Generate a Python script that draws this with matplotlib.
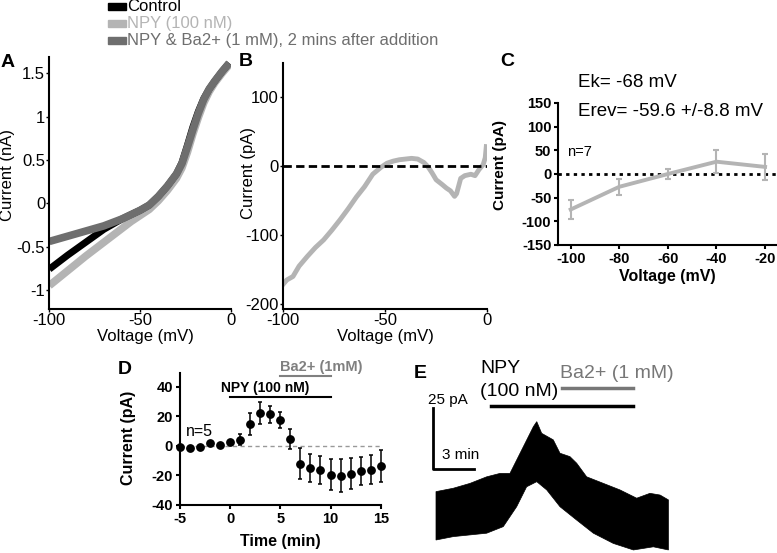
import numpy as np
import matplotlib.pyplot as plt
from matplotlib.patches import Rectangle

plt.rcParams['font.family'] = ['Liberation Sans', 'DejaVu Sans']
plt.rcParams['axes.unicode_minus'] = False

W, H = 777, 553
LIGHT = '#b4b4b4'
DARK = '#6e6e6e'

# legend
legend_labels = ['Control', 'NPY (100 nM)', 'NPY & Ba2+ (1 mM), 2 mins after addition']
legend_colors = ['black', LIGHT, DARK]
legend_text_colors = ['black', LIGHT, DARK]

# panel A: ramp I-V (nA)
volt_a = [-100, -90, -80, -70, -60, -55, -50, -45, -40, -35, -30, -27, -24, -21, -18, -15, -12, -9, -5, -1]
ctrl_a = [-0.76, -0.6, -0.45, -0.3, -0.18, -0.13, -0.08, -0.02, 0.08, 0.2, 0.34, 0.47, 0.67, 0.88, 1.06, 1.21, 1.32, 1.41, 1.52, 1.62]
npy_a = [-0.95, -0.78, -0.61, -0.45, -0.29, -0.21, -0.14, -0.07, 0.03, 0.15, 0.29, 0.41, 0.59, 0.8, 0.99, 1.16, 1.29, 1.39, 1.5, 1.6]
ba_a = [-0.44, -0.38, -0.32, -0.26, -0.18, -0.13, -0.08, -0.02, 0.08, 0.2, 0.34, 0.46, 0.65, 0.85, 1.04, 1.2, 1.32, 1.41, 1.52, 1.62]

# panel B: NPY-induced current (pA)
volt_b = [-100, -98, -95, -92, -88, -84, -80, -76, -72, -68, -64, -60, -56, -52, -49, -46, -43, -40,
          -37, -34, -31, -29, -27, -25, -22, -20, -18, -16, -15, -13, -11, -8, -6, -4, -2, -1, -0.5]
curr_b = [-172, -165, -160, -145, -131, -118, -107, -93, -78, -62, -45, -30, -12, -2, 4, 7, 9, 10,
          11, 10, 5, -1, -10, -20, -27, -32, -36, -44, -40, -18, -14, -12, -14, -5, 2, 12, 28]

# panel C
volt_c = [-100, -80, -60, -40, -20]
curr_c = [-75, -27, 0, 26, 15]
err_c = [20, 17, 11, 24, 27]

# panel D
time_d = list(range(-5, 16))
curr_d = [-0.9, -1.6, -0.5, 2.2, 0.7, 2.7, 4, 14.9, 22.5, 21.4, 17.6, 4.7, -12.2, -15, -16.2,
          -19.6, -20.3, -18.9, -16.9, -16.2, -13.5]
err_d = [0.5, 0.5, 0.5, 0.5, 0.5, 0.8, 3.7, 7.3, 7.5, 5.6, 5.5, 7, 10.5, 9.6, 9.3, 10.5, 11.2,
         10.5, 9.7, 9.8, 11]

# panel E: trace envelope (min, pA)
t_up = [0, 1.27, 2.49, 3.71, 4.68, 5.41, 5.9, 6.39, 7.12, 7.37, 7.73, 8.58, 9.07, 9.8, 10.29,
        11.02, 12.24, 13.46, 14.68, 15.65, 16.39, 17]
i_up = [19.9, 21.3, 23.3, 26.0, 27.4, 27.4, 32.9, 38.4, 46.6, 48.7, 43.9, 41.2, 35.7, 34.3, 31.6,
        26, 23.3, 20.6, 17.2, 19.2, 18.5, 16.5]
t_lo = [0, 1.27, 3.71, 4.92, 5.9, 6.63, 7.37, 8.1, 9.07, 10.29, 11.51, 12.97, 14.44, 15.9, 17]
i_lo = [0, 1.4, 2.8, 5.5, 13.7, 21.9, 24, 20.6, 13.7, 8.2, 2.8, -1.4, -4.1, -2.8, -4.1]

fig = plt.figure(figsize=(W / 100, H / 100), dpi=100)


def add_ax(x0, y0, x1, y1):
    return fig.add_axes([x0 / W, 1 - y1 / H, (x1 - x0) / W, (y1 - y0) / H])


def ftext(x, y, s, **kw):
    kw.setdefault('ha', 'center')
    kw.setdefault('va', 'center')
    fig.text(x / W, 1 - y / H, s, **kw)


def clean(ax, lw):
    ax.spines['top'].set_visible(False)
    ax.spines['right'].set_visible(False)
    ax.spines['left'].set_linewidth(lw)
    ax.spines['bottom'].set_linewidth(lw)


# legend
for i in range(3):
    yc = 6.3 + i * 17
    fig.patches.append(Rectangle((108.3 / W, 1 - (yc + 3.7) / H), 17.7 / W, 7.4 / H,
                                 transform=fig.transFigure, color=legend_colors[i]))
    ftext(127, yc, legend_labels[i], ha='left', fontsize=12, color=legend_text_colors[i])

# ---- A
axA = add_ax(49.3, 57, 231, 309)
axA.plot(volt_a, npy_a, color=LIGHT, lw=5.5, solid_capstyle='butt')
axA.plot(volt_a, ctrl_a, color='black', lw=5, solid_capstyle='butt')
axA.plot(volt_a, ba_a, color=DARK, lw=5.5, solid_capstyle='butt')
axA.set_xlim(-100, 0)
axA.set_ylim(-1.22, 1.69)
axA.set_xticks([-100, -50, 0])
axA.set_xticklabels(['-100', '-50', '0'])
axA.set_yticks([1.5, 1, 0.5, 0, -0.5, -1])
axA.set_yticklabels(['1.5', '1', '0.5', '0', '-0.5', '-1'])
clean(axA, 1.5)
axA.tick_params(length=2, width=1, labelsize=12, pad=1)
ftext(8, 175, 'Current (nA)', rotation=90, fontsize=12)
ftext(145, 337, 'Voltage (mV)', fontsize=12)
ftext(8, 63, 'A', fontsize=14, fontweight='bold')

# ---- B
axB = add_ax(282.7, 63, 487.3, 309)
axB.plot(volt_b, curr_b, color=LIGHT, lw=3.5)
axB.axhline(0, color='black', lw=2, dashes=(3, 1.55), xmin=0, xmax=1)
axB.set_xlim(-100, 0)
axB.set_ylim(-207, 149)
axB.set_xticks([-100, -50, 0])
axB.set_xticklabels(['-100', '-50', '0'])
axB.set_yticks([100, 0, -100, -200])
axB.set_yticklabels(['100', '0', '-100', '-200'])
clean(axB, 1.5)
axB.tick_params(length=2, width=1, labelsize=12, pad=1)
ftext(249, 173, 'Current (pA)', rotation=90, fontsize=12)
ftext(385, 337, 'Voltage (mV)', fontsize=12)
ftext(246, 61, 'B', fontsize=14, fontweight='bold')

# ---- C
axC = add_ax(558.3, 103, 777, 245)
axC.axhline(0, color='black', lw=2, dashes=(1.2, 1.55))
axC.errorbar(volt_c, curr_c, yerr=err_c, color=LIGHT, lw=2.8, elinewidth=1.5,
             capsize=2, capthick=1.5)
axC.set_xlim(-105.1, -15.1)
axC.set_ylim(-150, 150)
axC.set_xticks(volt_c)
axC.set_xticklabels(['-100', '-80', '-60', '-40', '-20'])
axC.set_yticks([150, 100, 50, 0, -50, -100, -150])
axC.set_yticklabels(['150', '100', '50', '0', '-50', '-100', '-150'])
clean(axC, 1.5)
axC.tick_params(length=3, width=1.5, labelsize=10.5, pad=2)
for lab in axC.get_xticklabels() + axC.get_yticklabels():
    lab.set_fontweight('bold')
axC.text(-97, 193, 'Ek= -68 mV', fontsize=13.5, ha='left', va='center', clip_on=False)
axC.text(-97, 133, 'Erev= -59.6 +/-8.8 mV', fontsize=13.5, ha='left', va='center', clip_on=False)
axC.text(-101.5, 47, 'n=7', fontsize=10.5, ha='left', va='center')
ftext(500, 165, 'Current (pA)', rotation=90, fontsize=11, fontweight='bold')
ftext(667, 277, 'Voltage (mV)', fontsize=11.5, fontweight='bold')
ftext(507, 62, 'C', fontsize=14, fontweight='bold')

# ---- D
axD = add_ax(180, 372.7, 380.7, 505)
axD.axhline(0, color='#999999', lw=1, dashes=(3, 2.4))
eb = axD.errorbar(time_d, curr_d, yerr=err_d, fmt='o', color='black', ms=5.3,
                  elinewidth=1.1, capsize=1.5, capthick=1.1)
for art in [eb[0]] + list(eb[1]) + list(eb[2]):
    art.set_clip_on(False)
axD.set_xlim(-5, 15)
axD.set_ylim(-40, 49.5)
axD.set_xticks([-5, 0, 5, 10, 15])
axD.set_xticklabels(['-5', '0', '5', '10', '15'])
axD.set_yticks([40, 20, 0, -20, -40])
axD.set_yticklabels(['40', '20', '0', '-20', '-40'])
clean(axD, 1.5)
axD.tick_params(length=3, width=1.5, labelsize=10.5, pad=2)
for lab in axD.get_xticklabels() + axD.get_yticklabels():
    lab.set_fontweight('bold')
axD.plot([0, 10], [33.3, 33.3], color='black', lw=1.5, clip_on=False)
axD.text(3.46, 39, 'NPY (100 nM)', fontsize=10, fontweight='bold', ha='center', va='center',
         clip_on=False)
axD.plot([5, 10], [47.3, 47.3], color='#808080', lw=1.5, clip_on=False)
axD.text(9.11, 53.6, 'Ba2+ (1mM)', fontsize=10.5, fontweight='bold', color='#808080',
         ha='center', va='center', clip_on=False)
axD.text(-3.07, 9.7, 'n=5', fontsize=11.5, ha='center', va='center')
ftext(128, 438, 'Current (pA)', rotation=90, fontsize=11.5, fontweight='bold')
ftext(280, 541.7, 'Time (min)', fontsize=11.5, fontweight='bold')
ftext(125, 370, 'D', fontsize=14, fontweight='bold')

# ---- E
axE = add_ax(420, 360, 700, 553)
axE.fill(np.concatenate([t_up, t_lo[::-1]]), np.concatenate([i_up, i_lo[::-1]]),
         color='black', lw=0.5)
axE.set_xlim(-1.17, 19.31)
axE.set_ylim(-5.35, 74.07)
axE.axis('off')
axE.plot([-0.24, -0.24, 2.76], [54.2, 29.2, 29.2], color='black', lw=2, clip_on=False)
axE.plot([4.02, 14.43], [55.3, 55.3], color='black', lw=2.5, clip_on=False)
axE.plot([9.2, 14.43], [62.7, 62.7], color='#777777', lw=2.5, clip_on=False)
axE.text(3.22, 70.7, 'NPY', fontsize=14, ha='left', va='center', clip_on=False)
axE.text(3.22, 61, '(100 nM)', fontsize=14, ha='left', va='center', clip_on=False)
axE.text(9.07, 68.6, 'Ba2+ (1 mM)', fontsize=14, color='#777777', ha='left', va='center',
         clip_on=False)
axE.text(-0.59, 57.6, '25 pA', fontsize=11, ha='left', va='center', clip_on=False)
axE.text(0.42, 35, '3 min', fontsize=11, ha='left', va='center', clip_on=False)
ftext(420, 373, 'E', fontsize=14, fontweight='bold')

fig.savefig('out.png', dpi=100)
